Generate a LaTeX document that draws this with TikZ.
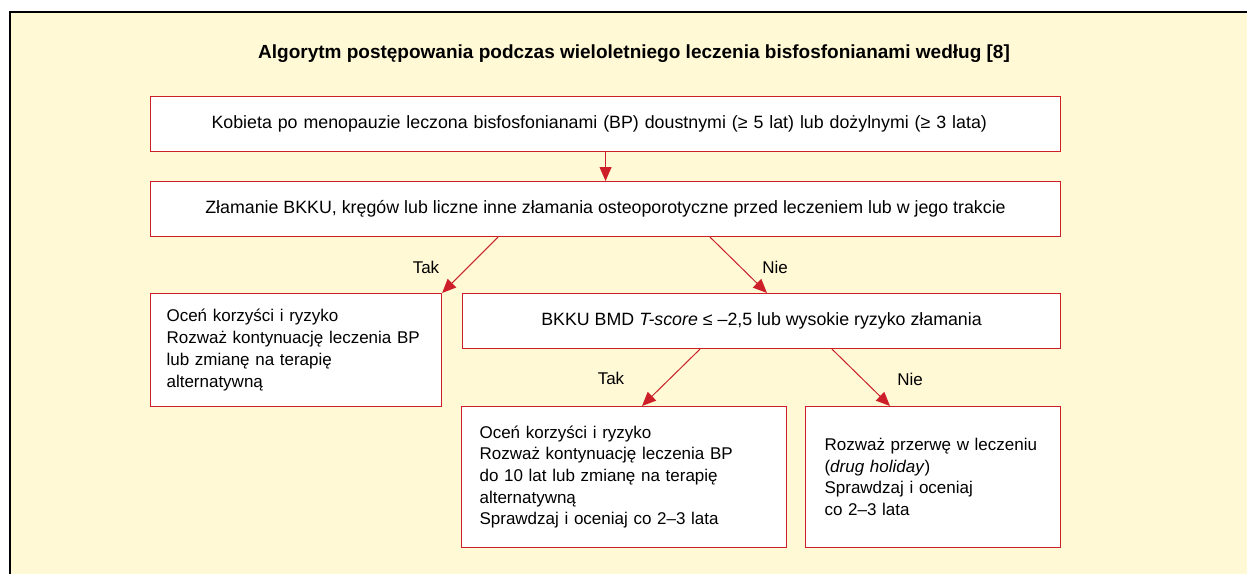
\documentclass[tikz,border=0pt]{standalone}
\usepackage{fontspec}
\setmainfont{Liberation Sans}
\usetikzlibrary{arrows.meta}

\definecolor{bgyellow}{HTML}{FFF9D6}
\definecolor{boxred}{HTML}{CC1F2A}

\tikzset{
  box/.style={draw=boxred, fill=white, line width=1.1pt, anchor=north west,
    font=\fontsize{17}{21.7}\selectfont, inner ysep=0pt},
  onebox/.style={box, align=center, minimum height=55pt,
    font=\fontsize{17.8}{21.7}\selectfont},
  textbox/.style={box, align=left, inner xsep=16pt},
  arr/.style={draw=boxred, line width=1pt, -{Triangle[length=14pt,width=12pt]}},
  lbl/.style={font=\fontsize{17}{20}\selectfont}
}

\begin{document}
\begin{tikzpicture}[x=1pt,y=-1pt]
      \useasboundingbox (0,0) rectangle (1247,574);
      \fill[bgyellow] (10,12) rectangle (1247,574);
      \draw[line width=1.5pt] (10,574) -- (10,12) -- (1247,12);

      \node[font=\fontsize{19}{22}\selectfont\bfseries] (title) at (634,54)
        {Algorytm postępowania podczas wieloletniego leczenia bisfosfonianami według [8]};

      % boxes
      \node[onebox, align=left, inner xsep=61pt, text width=788pt] (b1) at (150,96)
        {Kobieta po menopauzie leczona bisfosfonianami (BP) doustnymi (≥ 5 lat) lub dożylnymi (≥ 3 lata)};
      \node[onebox, minimum width=910pt] (b2) at (150,181)
        {Złamanie BKKU, kręgów lub liczne inne złamania osteoporotyczne przed leczeniem lub w jego trakcie};
      \node[textbox, text width=259pt, minimum height=113pt] (b3) at (150,293)
        {Oceń korzyści i ryzyko\\Rozważ kontynuację leczenia BP\\lub zmianę na terapię\\alternatywną};
      \node[onebox, minimum width=598pt] (b4) at (462,293)
        {BKKU BMD \textit{T-score} ≤ –2,5 lub wysokie ryzyko złamania};
      \node[textbox, inner xsep=18pt, text width=289pt, minimum height=141pt] (b5) at (461,406)
        {Oceń korzyści i ryzyko\\Rozważ kontynuację leczenia BP\\do 10 lat lub zmianę na terapię\\alternatywną\\Sprawdzaj i oceniaj co 2–3 lata};
      \node[textbox, inner xsep=19pt, text width=217pt, minimum height=141pt] (b6) at (805,406)
        {Rozważ przerwę w leczeniu\\(\textit{drug holiday})\\Sprawdzaj i oceniaj\\co 2–3 lata};

      % arrows
      \draw[arr] (b1.south) -- (b1.south |- b2.north);
      \draw[arr] ([xshift=348pt]b2.south west) -- (b3.north east);
      \draw[arr] ([xshift=560pt]b2.south west) -- ([xshift=305pt]b4.north west);
      \draw[arr] ([xshift=238pt]b4.south west) -- ([xshift=181pt]b5.north west);
      \draw[arr] ([xshift=370pt]b4.south west) -- ([xshift=85pt]b6.north west);

      % labels
      \node[lbl] (tak1) at (426,267) {Tak};
      \node[lbl] (nie1) at (775,267) {Nie};
      \node[lbl] (tak2) at (611,378) {Tak};
      \node[lbl] (nie2) at (910,379) {Nie};
\end{tikzpicture}
\end{document}
